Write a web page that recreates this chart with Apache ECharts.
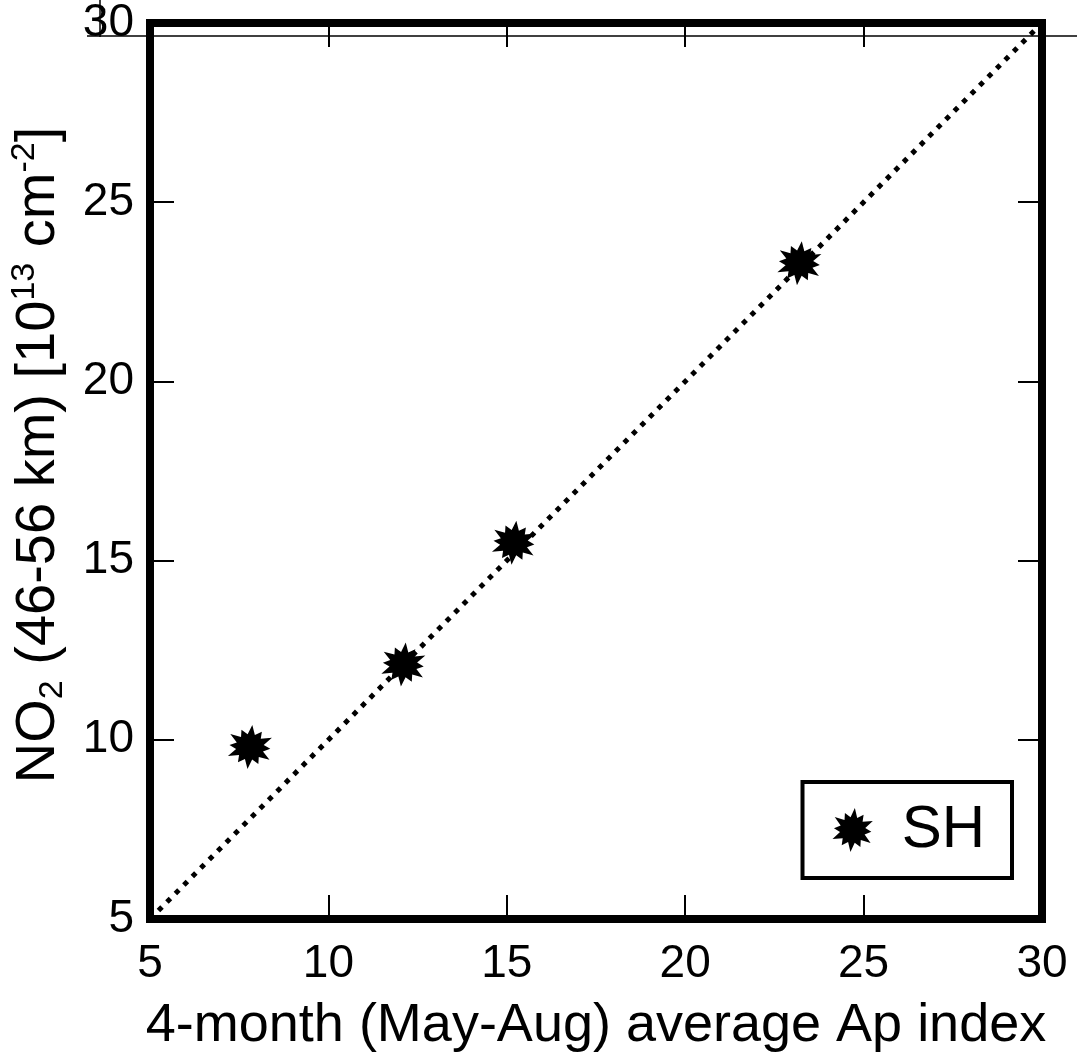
<!DOCTYPE html>
<html>
<head>
<meta charset="utf-8">
<script src="https://cdn.jsdelivr.net/npm/echarts@6/dist/echarts.min.js"></script>
<style>
  html, body { margin: 0; padding: 0; background: #fff; }
  #chart { width: 1077px; height: 1058px; }
</style>
</head>
<body>
<div id="chart"></div>
<script>
// values
var apIndex = [7.8, 12.1, 15.2, 23.2];
var no2 = [9.8, 12.1, 15.5, 23.3];
var oneToOne = [[5, 5], [30, 30]];
var axisMin = 5, axisMax = 30, axisStep = 5;
var seriesName = 'SH';

// burst-like star symbol
function starPath(n) {
    var pts = [];
    for (var i = 0; i < n * 2; i++) {
        var a = Math.PI * i / n - Math.PI / 2 + 0.1;
        var r = i % 2 === 0 ? (i % 4 === 0 ? 1 : 0.85) : 0.58;
        pts.push((50 + 50 * r * Math.cos(a)).toFixed(1) + ' ' + (50 + 50 * r * Math.sin(a)).toFixed(1));
    }
    return 'path://M' + pts.join(' L') + ' Z';
}
var star = starPath(12);

var font = 'Liberation Sans, Arial, Helvetica, sans-serif';

var myChart = echarts.init(document.getElementById('chart'));
myChart.setOption({
    animation: false,
    backgroundColor: '#fff',
    textStyle: { fontFamily: font, color: '#000' },
    grid: {
        left: 148, right: 35, top: 20, bottom: 137,
        show: true, borderColor: '#000', borderWidth: 8, backgroundColor: 'transparent'
    },
    legend: {
        data: [{ name: seriesName, icon: star }],
        right: 65, top: 782,
        orient: 'horizontal',
        borderColor: '#000', borderWidth: 4,
        padding: [18, 27, 18, 30],
        itemWidth: 44, itemHeight: 44,
        textStyle: { fontSize: 60, fontFamily: font, color: '#000', padding: [0, 0, 0, 22], lineHeight: 60 }
    },
    graphic: [
        { type: 'line', shape: { x1: 87, y1: 36, x2: 1077, y2: 36 }, style: { stroke: '#000', lineWidth: 1.5 }, z: 100 },
        { type: 'line', shape: { x1: 100, y1: 0, x2: 100, y2: 37 }, style: { stroke: '#000', lineWidth: 1.5 }, z: 100 }
    ],
    xAxis: [
        {
            type: 'value', min: axisMin, max: axisMax, interval: axisStep, position: 'bottom',
            name: '4-month (May-Aug) average Ap index',
            nameLocation: 'middle', nameGap: 80,
            nameTextStyle: { fontSize: 54, fontFamily: font, color: '#000' },
            axisLine: { show: false },
            axisTick: { show: true, inside: true, length: 24, lineStyle: { color: '#000', width: 2 } },
            axisLabel: { fontSize: 46, margin: 22, color: '#000', fontFamily: font },
            splitLine: { show: false }
        },
        {
            type: 'value', min: axisMin, max: axisMax, interval: axisStep, position: 'top',
            axisLine: { show: false },
            axisTick: { show: true, inside: true, length: 24, lineStyle: { color: '#000', width: 2 } },
            axisLabel: { show: false },
            splitLine: { show: false }
        }
    ],
    yAxis: [
        {
            type: 'value', min: axisMin, max: axisMax, interval: axisStep, position: 'left',
            name: '{n|NO}{sub|2}{n| (46-56 km) [10}{sup|13}{n| cm}{sup|-2}{n|]}',
            nameLocation: 'middle', nameGap: 80, nameRotate: 90,
            nameTextStyle: {
                fontFamily: font, color: '#000',
                padding: [0, 0, 0, 32],
                rich: {
                    n: { fontSize: 56, lineHeight: 62, fontFamily: font, color: '#000' },
                    sub: { fontSize: 34, lineHeight: 32, verticalAlign: 'bottom', fontFamily: font, color: '#000' },
                    sup: { fontSize: 34, lineHeight: 32, verticalAlign: 'top', fontFamily: font, color: '#000' }
                }
            },
            axisLine: { show: false },
            axisTick: { show: true, inside: true, length: 24, lineStyle: { color: '#000', width: 2 } },
            axisLabel: { fontSize: 46, margin: 16, color: '#000', fontFamily: font },
            splitLine: { show: false }
        },
        {
            type: 'value', min: axisMin, max: axisMax, interval: axisStep, position: 'right',
            axisLine: { show: false },
            axisTick: { show: true, inside: true, length: 24, lineStyle: { color: '#000', width: 2 } },
            axisLabel: { show: false },
            splitLine: { show: false }
        }
    ],
    series: [
        {
            name: '1:1',
            type: 'line',
            data: oneToOne,
            symbol: 'none',
            silent: true,
            lineStyle: { color: '#000', width: 5, type: [5, 7], cap: 'butt' },
            z: 2
        },
        {
            name: seriesName,
            type: 'scatter',
            data: apIndex.map(function (x, i) { return [x, no2[i]]; }),
            symbol: star,
            symbolSize: 44,
            itemStyle: { color: '#000', opacity: 1 },
            z: 3
        }
    ]
});
</script>
</body>
</html>
